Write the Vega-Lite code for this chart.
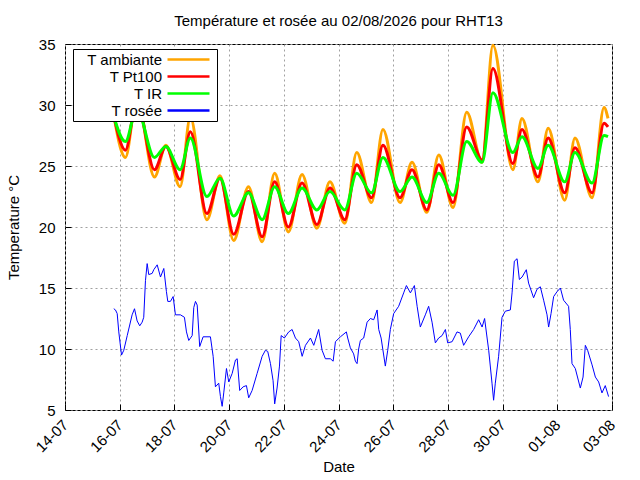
{
  "$schema": "https://vega.github.io/schema/vega-lite/v6.json",
  "autosize": "none",
  "width": 547,
  "height": 366,
  "padding": {"left": 65, "top": 44, "right": 28, "bottom": 70},
  "background": "white",
  "title": {
    "text": "Température et rosée au 02/08/2026 pour RHT13",
    "font": "Liberation Sans",
    "fontSize": 15,
    "fontWeight": "normal",
    "color": "black",
    "anchor": "middle",
    "offset": 8
  },
  "datasets": {
    "amb": [
      {"t": "2026-07-15 18:00", "v": 29.6},
      {"t": "2026-07-16 05:00", "v": 25.7},
      {"t": "2026-07-16 15:00", "v": 30.6},
      {"t": "2026-07-17 06:30", "v": 24.1},
      {"t": "2026-07-17 16:30", "v": 26.7},
      {"t": "2026-07-18 05:00", "v": 23.3},
      {"t": "2026-07-18 14:00", "v": 29.0},
      {"t": "2026-07-19 04:30", "v": 20.6},
      {"t": "2026-07-19 16:00", "v": 24.2},
      {"t": "2026-07-20 04:00", "v": 18.9},
      {"t": "2026-07-20 17:00", "v": 23.3},
      {"t": "2026-07-21 05:00", "v": 18.8},
      {"t": "2026-07-21 16:00", "v": 24.4},
      {"t": "2026-07-22 04:00", "v": 19.6},
      {"t": "2026-07-22 16:00", "v": 24.3},
      {"t": "2026-07-23 05:00", "v": 19.9},
      {"t": "2026-07-23 16:30", "v": 23.7},
      {"t": "2026-07-24 05:30", "v": 20.3},
      {"t": "2026-07-24 16:00", "v": 26.1},
      {"t": "2026-07-25 05:00", "v": 22.0},
      {"t": "2026-07-25 15:00", "v": 28.0},
      {"t": "2026-07-26 06:00", "v": 22.0},
      {"t": "2026-07-26 16:30", "v": 25.3},
      {"t": "2026-07-27 05:30", "v": 21.2},
      {"t": "2026-07-27 16:00", "v": 25.9},
      {"t": "2026-07-28 04:30", "v": 21.6},
      {"t": "2026-07-28 16:30", "v": 29.4},
      {"t": "2026-07-29 06:00", "v": 25.3},
      {"t": "2026-07-29 15:30", "v": 34.9},
      {"t": "2026-07-30 09:00", "v": 24.7},
      {"t": "2026-07-30 17:00", "v": 28.9},
      {"t": "2026-07-31 07:00", "v": 23.7},
      {"t": "2026-07-31 16:00", "v": 28.1},
      {"t": "2026-08-01 06:30", "v": 22.2},
      {"t": "2026-08-01 15:30", "v": 27.3},
      {"t": "2026-08-02 06:30", "v": 22.4},
      {"t": "2026-08-02 17:00", "v": 29.8},
      {"t": "2026-08-02 20:30", "v": 28.9}
    ],
    "pt100": [
      {"t": "2026-07-15 18:00", "v": 29.5},
      {"t": "2026-07-16 05:00", "v": 26.3},
      {"t": "2026-07-16 15:00", "v": 30.3},
      {"t": "2026-07-17 06:30", "v": 24.7},
      {"t": "2026-07-17 16:30", "v": 26.6},
      {"t": "2026-07-18 05:00", "v": 23.9},
      {"t": "2026-07-18 14:00", "v": 27.8},
      {"t": "2026-07-19 04:30", "v": 21.1},
      {"t": "2026-07-19 16:00", "v": 24.0},
      {"t": "2026-07-20 04:00", "v": 19.4},
      {"t": "2026-07-20 17:00", "v": 22.9},
      {"t": "2026-07-21 05:00", "v": 19.2},
      {"t": "2026-07-21 16:00", "v": 23.7},
      {"t": "2026-07-22 04:00", "v": 20.0},
      {"t": "2026-07-22 16:00", "v": 23.6},
      {"t": "2026-07-23 05:00", "v": 20.2},
      {"t": "2026-07-23 16:30", "v": 23.2},
      {"t": "2026-07-24 05:30", "v": 20.6},
      {"t": "2026-07-24 16:00", "v": 25.1},
      {"t": "2026-07-25 05:00", "v": 22.4},
      {"t": "2026-07-25 15:00", "v": 26.7},
      {"t": "2026-07-26 06:00", "v": 22.4},
      {"t": "2026-07-26 16:30", "v": 24.7},
      {"t": "2026-07-27 05:30", "v": 21.4},
      {"t": "2026-07-27 16:00", "v": 25.1},
      {"t": "2026-07-28 04:30", "v": 22.0},
      {"t": "2026-07-28 16:30", "v": 28.2},
      {"t": "2026-07-29 06:00", "v": 25.5},
      {"t": "2026-07-29 15:30", "v": 33.0},
      {"t": "2026-07-30 09:00", "v": 25.2},
      {"t": "2026-07-30 17:00", "v": 28.0},
      {"t": "2026-07-31 07:00", "v": 24.1},
      {"t": "2026-07-31 16:00", "v": 27.3},
      {"t": "2026-08-01 06:30", "v": 22.8},
      {"t": "2026-08-01 15:30", "v": 26.5},
      {"t": "2026-08-02 06:30", "v": 22.8},
      {"t": "2026-08-02 17:00", "v": 28.5},
      {"t": "2026-08-02 20:30", "v": 28.2}
    ],
    "ir": [
      {"t": "2026-07-15 18:00", "v": 29.3},
      {"t": "2026-07-16 05:00", "v": 27.0},
      {"t": "2026-07-16 15:00", "v": 29.7},
      {"t": "2026-07-17 06:30", "v": 25.7},
      {"t": "2026-07-17 16:30", "v": 26.6},
      {"t": "2026-07-18 05:00", "v": 24.7},
      {"t": "2026-07-18 14:00", "v": 27.3},
      {"t": "2026-07-19 04:30", "v": 22.5},
      {"t": "2026-07-19 16:00", "v": 24.0},
      {"t": "2026-07-20 04:00", "v": 20.9},
      {"t": "2026-07-20 17:00", "v": 22.8},
      {"t": "2026-07-21 05:00", "v": 20.6},
      {"t": "2026-07-21 16:00", "v": 23.3},
      {"t": "2026-07-22 04:00", "v": 21.1},
      {"t": "2026-07-22 16:00", "v": 23.2},
      {"t": "2026-07-23 05:00", "v": 21.4},
      {"t": "2026-07-23 16:30", "v": 22.9},
      {"t": "2026-07-24 05:30", "v": 21.4},
      {"t": "2026-07-24 16:00", "v": 24.4},
      {"t": "2026-07-25 05:00", "v": 22.8},
      {"t": "2026-07-25 15:00", "v": 25.7},
      {"t": "2026-07-26 06:00", "v": 22.9},
      {"t": "2026-07-26 16:30", "v": 24.1},
      {"t": "2026-07-27 05:30", "v": 22.0},
      {"t": "2026-07-27 16:00", "v": 24.4},
      {"t": "2026-07-28 04:30", "v": 22.6},
      {"t": "2026-07-28 16:30", "v": 27.0},
      {"t": "2026-07-29 06:00", "v": 25.3},
      {"t": "2026-07-29 15:30", "v": 31.0},
      {"t": "2026-07-30 09:00", "v": 26.1},
      {"t": "2026-07-30 17:00", "v": 27.4},
      {"t": "2026-07-31 07:00", "v": 24.8},
      {"t": "2026-07-31 16:00", "v": 26.7},
      {"t": "2026-08-01 06:30", "v": 23.7},
      {"t": "2026-08-01 15:30", "v": 26.1},
      {"t": "2026-08-02 06:30", "v": 23.6},
      {"t": "2026-08-02 17:00", "v": 27.5},
      {"t": "2026-08-02 20:30", "v": 27.4}
    ],
    "dew": [
      {"t": "2026-07-15 18:48", "v": 13.3},
      {"t": "2026-07-15 20:18", "v": 13.2},
      {"t": "2026-07-15 21:48", "v": 12.9},
      {"t": "2026-07-15 23:12", "v": 11.4},
      {"t": "2026-07-16 01:36", "v": 9.5},
      {"t": "2026-07-16 03:36", "v": 9.9},
      {"t": "2026-07-16 06:36", "v": 11.1},
      {"t": "2026-07-16 10:54", "v": 12.8},
      {"t": "2026-07-16 13:00", "v": 13.3},
      {"t": "2026-07-16 15:18", "v": 12.3},
      {"t": "2026-07-16 17:36", "v": 11.9},
      {"t": "2026-07-16 19:42", "v": 12.2},
      {"t": "2026-07-16 21:06", "v": 12.6},
      {"t": "2026-07-16 22:36", "v": 15.6},
      {"t": "2026-07-17 00:06", "v": 17.0},
      {"t": "2026-07-17 01:30", "v": 16.1},
      {"t": "2026-07-17 04:30", "v": 16.2},
      {"t": "2026-07-17 05:54", "v": 16.5},
      {"t": "2026-07-17 08:54", "v": 16.9},
      {"t": "2026-07-17 11:48", "v": 15.9},
      {"t": "2026-07-17 14:42", "v": 16.6},
      {"t": "2026-07-17 17:00", "v": 14.7},
      {"t": "2026-07-17 18:12", "v": 13.9},
      {"t": "2026-07-17 20:30", "v": 13.9},
      {"t": "2026-07-17 22:54", "v": 14.3},
      {"t": "2026-07-18 00:54", "v": 12.8},
      {"t": "2026-07-18 05:18", "v": 12.8},
      {"t": "2026-07-18 08:48", "v": 12.6},
      {"t": "2026-07-18 10:36", "v": 11.4},
      {"t": "2026-07-18 12:36", "v": 10.7},
      {"t": "2026-07-18 15:36", "v": 11.1},
      {"t": "2026-07-18 17:00", "v": 13.4},
      {"t": "2026-07-18 18:30", "v": 13.9},
      {"t": "2026-07-18 20:00", "v": 13.6},
      {"t": "2026-07-18 22:12", "v": 10.2},
      {"t": "2026-07-19 01:12", "v": 11.0},
      {"t": "2026-07-19 07:36", "v": 11.0},
      {"t": "2026-07-19 10:00", "v": 9.4},
      {"t": "2026-07-19 12:00", "v": 6.9},
      {"t": "2026-07-19 14:54", "v": 7.2},
      {"t": "2026-07-19 16:24", "v": 6.1},
      {"t": "2026-07-19 17:54", "v": 5.3},
      {"t": "2026-07-19 19:18", "v": 6.4},
      {"t": "2026-07-19 21:42", "v": 8.4},
      {"t": "2026-07-19 23:42", "v": 7.3},
      {"t": "2026-07-20 02:42", "v": 8.0},
      {"t": "2026-07-20 05:36", "v": 9.1},
      {"t": "2026-07-20 07:06", "v": 9.2},
      {"t": "2026-07-20 09:18", "v": 6.6},
      {"t": "2026-07-20 12:18", "v": 6.9},
      {"t": "2026-07-20 15:12", "v": 7.0},
      {"t": "2026-07-20 17:12", "v": 6.0},
      {"t": "2026-07-20 20:12", "v": 6.6},
      {"t": "2026-07-21 00:36", "v": 8.0},
      {"t": "2026-07-21 05:00", "v": 9.4},
      {"t": "2026-07-21 07:54", "v": 9.9},
      {"t": "2026-07-21 09:54", "v": 9.8},
      {"t": "2026-07-21 12:18", "v": 8.8},
      {"t": "2026-07-21 14:36", "v": 7.4},
      {"t": "2026-07-21 16:00", "v": 5.5},
      {"t": "2026-07-21 18:06", "v": 6.8},
      {"t": "2026-07-21 20:12", "v": 8.6},
      {"t": "2026-07-21 21:42", "v": 11.1},
      {"t": "2026-07-22 00:30", "v": 10.9},
      {"t": "2026-07-22 04:18", "v": 11.4},
      {"t": "2026-07-22 07:18", "v": 11.6},
      {"t": "2026-07-22 10:12", "v": 10.9},
      {"t": "2026-07-22 13:06", "v": 10.6},
      {"t": "2026-07-22 16:06", "v": 9.4},
      {"t": "2026-07-22 19:00", "v": 10.3},
      {"t": "2026-07-22 23:24", "v": 10.9},
      {"t": "2026-07-23 02:18", "v": 10.3},
      {"t": "2026-07-23 06:36", "v": 11.6},
      {"t": "2026-07-23 09:36", "v": 9.9},
      {"t": "2026-07-23 12:30", "v": 9.2},
      {"t": "2026-07-23 16:54", "v": 9.2},
      {"t": "2026-07-23 19:18", "v": 9.0},
      {"t": "2026-07-23 21:18", "v": 10.6},
      {"t": "2026-07-24 01:42", "v": 11.0},
      {"t": "2026-07-24 06:54", "v": 11.4},
      {"t": "2026-07-24 08:06", "v": 10.9},
      {"t": "2026-07-24 10:24", "v": 10.1},
      {"t": "2026-07-24 13:18", "v": 9.6},
      {"t": "2026-07-24 14:48", "v": 9.0},
      {"t": "2026-07-24 16:18", "v": 8.8},
      {"t": "2026-07-24 17:42", "v": 10.0},
      {"t": "2026-07-24 19:12", "v": 10.7},
      {"t": "2026-07-24 22:06", "v": 10.9},
      {"t": "2026-07-25 01:06", "v": 12.2},
      {"t": "2026-07-25 04:00", "v": 12.5},
      {"t": "2026-07-25 06:54", "v": 12.4},
      {"t": "2026-07-25 09:54", "v": 13.2},
      {"t": "2026-07-25 11:18", "v": 11.6},
      {"t": "2026-07-25 13:24", "v": 10.9},
      {"t": "2026-07-25 17:06", "v": 8.6},
      {"t": "2026-07-25 19:12", "v": 9.9},
      {"t": "2026-07-25 21:30", "v": 11.6},
      {"t": "2026-07-26 00:24", "v": 12.9},
      {"t": "2026-07-26 04:48", "v": 13.5},
      {"t": "2026-07-26 09:12", "v": 14.6},
      {"t": "2026-07-26 11:36", "v": 15.2},
      {"t": "2026-07-26 15:06", "v": 14.6},
      {"t": "2026-07-26 18:36", "v": 15.2},
      {"t": "2026-07-26 21:00", "v": 13.5},
      {"t": "2026-07-26 23:48", "v": 11.8},
      {"t": "2026-07-27 04:12", "v": 12.8},
      {"t": "2026-07-27 07:06", "v": 13.5},
      {"t": "2026-07-27 10:06", "v": 12.2},
      {"t": "2026-07-27 13:00", "v": 10.5},
      {"t": "2026-07-27 15:54", "v": 10.9},
      {"t": "2026-07-27 18:54", "v": 11.1},
      {"t": "2026-07-27 21:48", "v": 11.6},
      {"t": "2026-07-27 23:48", "v": 10.5},
      {"t": "2026-07-28 03:42", "v": 10.6},
      {"t": "2026-07-28 08:00", "v": 11.4},
      {"t": "2026-07-28 10:54", "v": 11.3},
      {"t": "2026-07-28 13:48", "v": 10.3},
      {"t": "2026-07-28 18:12", "v": 11.0},
      {"t": "2026-07-28 22:36", "v": 11.6},
      {"t": "2026-07-29 03:00", "v": 12.4},
      {"t": "2026-07-29 06:00", "v": 11.8},
      {"t": "2026-07-29 08:12", "v": 12.5},
      {"t": "2026-07-29 10:24", "v": 10.9},
      {"t": "2026-07-29 11:48", "v": 9.9},
      {"t": "2026-07-29 14:42", "v": 7.2},
      {"t": "2026-07-29 16:06", "v": 5.8},
      {"t": "2026-07-29 17:36", "v": 7.2},
      {"t": "2026-07-29 20:30", "v": 9.4},
      {"t": "2026-07-29 23:30", "v": 12.6},
      {"t": "2026-07-30 02:24", "v": 13.1},
      {"t": "2026-07-30 06:48", "v": 13.2},
      {"t": "2026-07-30 08:18", "v": 14.6},
      {"t": "2026-07-30 10:18", "v": 17.2},
      {"t": "2026-07-30 12:42", "v": 17.4},
      {"t": "2026-07-30 14:42", "v": 15.7},
      {"t": "2026-07-30 17:06", "v": 15.9},
      {"t": "2026-07-30 20:48", "v": 16.5},
      {"t": "2026-07-30 22:48", "v": 15.4},
      {"t": "2026-07-31 03:12", "v": 14.2},
      {"t": "2026-07-31 06:12", "v": 14.9},
      {"t": "2026-07-31 09:06", "v": 15.1},
      {"t": "2026-07-31 12:00", "v": 14.0},
      {"t": "2026-07-31 15:00", "v": 12.8},
      {"t": "2026-07-31 16:24", "v": 11.8},
      {"t": "2026-07-31 18:30", "v": 12.9},
      {"t": "2026-07-31 20:48", "v": 14.3},
      {"t": "2026-07-31 23:48", "v": 14.7},
      {"t": "2026-08-01 02:42", "v": 15.0},
      {"t": "2026-08-01 05:30", "v": 14.0},
      {"t": "2026-08-01 09:54", "v": 13.5},
      {"t": "2026-08-01 11:24", "v": 11.6},
      {"t": "2026-08-01 12:54", "v": 8.8},
      {"t": "2026-08-01 15:48", "v": 8.4},
      {"t": "2026-08-01 20:12", "v": 6.8},
      {"t": "2026-08-01 22:36", "v": 7.7},
      {"t": "2026-08-02 00:36", "v": 10.3},
      {"t": "2026-08-02 02:36", "v": 9.9},
      {"t": "2026-08-02 06:30", "v": 8.7},
      {"t": "2026-08-02 09:24", "v": 7.7},
      {"t": "2026-08-02 12:18", "v": 7.3},
      {"t": "2026-08-02 15:12", "v": 6.4},
      {"t": "2026-08-02 18:06", "v": 7.0},
      {"t": "2026-08-02 21:00", "v": 6.1}
    ]
  },
  "layer": [
    {
      "data": {"name": "amb", "format": {"parse": {"t": "utc:'%Y-%m-%d %H:%M'"}}},
      "mark": {"type": "line", "strokeWidth": 3, "interpolate": "monotone"},
      "encoding": {
        "x": {
          "field": "t",
          "type": "temporal",
          "title": "Date",
          "scale": {
            "type": "utc",
            "nice": false,
            "domain": [
              {"year": 2026, "month": 7, "date": 14, "utc": true},
              {"year": 2026, "month": 8, "date": 3, "utc": true}
            ]
          },
          "axis": {
            "values": [
              1783987200000, 1784030400000, 1784073600000, 1784116800000, 1784160000000,
              1784203200000, 1784246400000, 1784289600000, 1784332800000, 1784376000000,
              1784419200000, 1784462400000, 1784505600000, 1784548800000, 1784592000000,
              1784635200000, 1784678400000, 1784721600000, 1784764800000, 1784808000000,
              1784851200000, 1784894400000, 1784937600000, 1784980800000, 1785024000000,
              1785067200000, 1785110400000, 1785153600000, 1785196800000, 1785240000000,
              1785283200000, 1785326400000, 1785369600000, 1785412800000, 1785456000000,
              1785499200000, 1785542400000, 1785585600000, 1785628800000, 1785672000000,
              1785715200000
            ],
            "format": "%d-%m",
            "labelExpr": "(datum.value - 1783987200000) % 172800000 == 0 ? datum.label : ''",
            "labelAngle": -45,
            "labelAlign": "right",
            "labelBaseline": "middle",
            "labelPadding": 18,
            "labelFlush": false,
            "labelOverlap": false,
            "grid": true,
            "gridOpacity": {"condition": {"test": "(datum.value - 1783987200000) % 172800000 == 0", "value": 1}, "value": 0},
            "tickSize": -6,
            "tickDash": {"condition": {"test": "(datum.value - 1783987200000) % 172800000 == 0", "value": []}, "value": [3, 10]},
            "titleY": 61,
            "titleBaseline": "alphabetic"
          }
        },
        "y": {
          "field": "v",
          "type": "quantitative",
          "title": "Temperature °C",
          "scale": {"domain": [5, 35], "nice": false},
          "axis": {
            "values": [5, 10, 15, 20, 25, 30, 35],
            "grid": true,
            "tickSize": -6,
            "labelPadding": 16,
            "titleX": -47,
            "titleBaseline": "alphabetic"
          }
        },
        "color": {
          "datum": "T ambiante",
          "type": "nominal",
          "scale": {
            "domain": ["T ambiante", "T Pt100", "T IR", "T rosée"],
            "range": ["#ffa500", "#ff0000", "#00ff00", "#0000ff"]
          },
          "legend": {
            "title": null,
            "orient": "none",
            "legendX": 8,
            "legendY": 5,
            "fillColor": "white",
            "strokeColor": "black",
            "padding": 2,
            "rowPadding": -1,
            "symbolType": "M-3,0H3",
            "symbolSize": 196,
            "symbolStrokeWidth": 2.5,
            "symbolOffset": 105,
            "labelAlign": "right",
            "labelOffset": -35,
            "labelFont": "Liberation Sans",
            "labelFontSize": 15,
            "labelColor": "black"
          }
        }
      }
    },
    {
      "data": {"name": "pt100", "format": {"parse": {"t": "utc:'%Y-%m-%d %H:%M'"}}},
      "mark": {"type": "line", "strokeWidth": 3, "interpolate": "monotone"},
      "encoding": {
        "x": {"field": "t", "type": "temporal"},
        "y": {"field": "v", "type": "quantitative"},
        "color": {"datum": "T Pt100", "type": "nominal"}
      }
    },
    {
      "data": {"name": "ir", "format": {"parse": {"t": "utc:'%Y-%m-%d %H:%M'"}}},
      "mark": {"type": "line", "strokeWidth": 3, "interpolate": "monotone"},
      "encoding": {
        "x": {"field": "t", "type": "temporal"},
        "y": {"field": "v", "type": "quantitative"},
        "color": {"datum": "T IR", "type": "nominal"}
      }
    },
    {
      "data": {"name": "dew", "format": {"parse": {"t": "utc:'%Y-%m-%d %H:%M'"}}},
      "mark": {"type": "line", "strokeWidth": 1},
      "encoding": {
        "x": {"field": "t", "type": "temporal"},
        "y": {"field": "v", "type": "quantitative"},
        "color": {"datum": "T rosée", "type": "nominal"}
      }
    }
  ],
  "config": {
    "view": {"stroke": "black", "strokeWidth": 1},
    "font": "Liberation Sans",
    "axis": {
      "domain": false,
      "tickColor": "black",
      "tickWidth": 1,
      "labelFont": "Liberation Sans",
      "labelFontSize": 15,
      "labelColor": "black",
      "titleFont": "Liberation Sans",
      "titleFontSize": 15,
      "titleFontWeight": "normal",
      "titleColor": "black",
      "gridColor": "#a0a0a0",
      "gridDash": [2, 3],
      "gridWidth": 1
    }
  }
}
